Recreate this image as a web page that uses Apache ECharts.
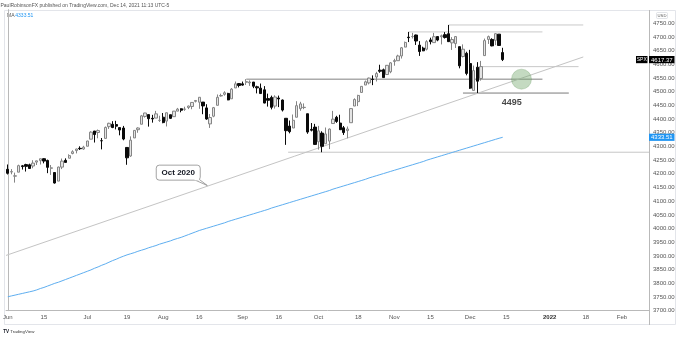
<!DOCTYPE html>
<html>
<head>
<meta charset="utf-8">
<script src="https://cdn.jsdelivr.net/npm/echarts@6/dist/echarts.min.js"></script>
<style>
  html, body { margin: 0; padding: 0; background: #fff; }
  #chart { width: 679px; height: 337px; }
</style>
</head>
<body>
<div id="chart"></div>
<script>
// ---- S&P 500 daily bars, Jun 1 – Dec 14 2021 (last bar intraday) ----
const open = [
  4216.52, 4206.82, 4191.43, 4206.05, 4229.34, 4233.81, 4232.99, 4228.56, 4242.90, 4248.31,
  4255.28, 4248.87, 4220.37, 4204.78, 4173.40, 4224.61, 4249.27, 4256.97, 4274.45, 4284.90,
  4293.21, 4290.65, 4300.73, 4326.60, 4356.46, 4351.01, 4321.07, 4329.38, 4372.41, 4381.07,
  4380.11, 4369.02, 4367.43, 4296.40, 4265.11, 4331.13, 4361.27, 4381.20, 4409.58, 4416.38,
  4402.95, 4403.59, 4395.12, 4406.86, 4392.74, 4415.95, 4408.86, 4429.07, 4437.77, 4435.79,
  4442.18, 4446.08, 4464.84, 4461.65, 4462.12, 4440.94, 4382.44, 4410.56, 4450.29, 4484.40,
  4490.45, 4493.75, 4474.10, 4513.76, 4529.75, 4528.80, 4534.48, 4532.42, 4535.38, 4518.09,
  4513.02, 4506.92, 4474.81, 4479.33, 4447.49, 4477.09, 4469.74, 4402.95, 4374.45, 4367.43,
  4406.75, 4438.04, 4442.12, 4419.54, 4362.41, 4370.67, 4317.16, 4348.84, 4309.87, 4319.57,
  4383.73, 4406.51, 4385.44, 4368.31, 4358.01, 4386.75, 4447.69, 4463.72, 4497.34, 4524.42,
  4532.24, 4546.12, 4553.69, 4578.69, 4580.22, 4562.84, 4572.87, 4610.62, 4613.34, 4630.65,
  4662.93, 4699.26, 4701.48, 4707.25, 4670.26, 4659.39, 4655.24, 4689.30, 4679.42, 4701.50,
  4700.72, 4708.44, 4712.00, 4678.48, 4675.78, 4664.63, 4628.75, 4640.25, 4602.82, 4504.73,
  4589.49, 4548.37, 4631.97, 4690.86, 4691.00, 4687.64, 4710.30, 4642.99
];
const high = [
  4234.12, 4217.37, 4204.39, 4233.45, 4232.34, 4236.74, 4237.09, 4249.74, 4248.38, 4255.59,
  4257.16, 4251.89, 4232.29, 4204.78, 4226.24, 4255.84, 4256.60, 4271.28, 4286.12, 4292.14,
  4300.52, 4302.43, 4320.66, 4355.43, 4356.46, 4361.88, 4330.88, 4372.87, 4386.68, 4392.37,
  4393.68, 4369.02, 4375.09, 4296.40, 4336.84, 4359.70, 4369.87, 4415.18, 4422.73, 4416.38,
  4415.47, 4429.97, 4412.25, 4422.18, 4423.79, 4416.17, 4429.76, 4440.82, 4439.39, 4445.21,
  4449.44, 4461.77, 4468.37, 4480.26, 4462.12, 4454.32, 4418.61, 4444.35, 4489.88, 4492.81,
  4501.71, 4495.90, 4513.33, 4537.36, 4531.39, 4537.11, 4545.85, 4541.45, 4535.38, 4521.79,
  4529.90, 4520.47, 4492.99, 4485.68, 4486.87, 4485.87, 4471.52, 4402.95, 4394.87, 4416.75,
  4465.40, 4463.12, 4457.30, 4419.54, 4385.57, 4382.55, 4375.19, 4355.51, 4369.23, 4365.57,
  4429.97, 4412.02, 4415.88, 4374.89, 4372.87, 4439.73, 4475.82, 4488.75, 4520.40, 4540.87,
  4551.44, 4559.67, 4572.62, 4598.53, 4584.57, 4597.55, 4608.08, 4620.34, 4635.15, 4663.46,
  4683.00, 4718.50, 4714.92, 4708.53, 4684.85, 4664.55, 4688.47, 4697.42, 4714.95, 4701.50,
  4708.80, 4717.75, 4743.83, 4699.39, 4702.87, 4664.63, 4672.95, 4646.02, 4652.94, 4595.46,
  4608.03, 4612.60, 4694.04, 4705.06, 4695.26, 4713.57, 4710.30, 4660.47
];
const low = [
  4197.59, 4198.27, 4167.93, 4206.05, 4215.66, 4208.41, 4218.74, 4220.34, 4232.25, 4234.07,
  4238.35, 4202.45, 4196.05, 4164.40, 4173.40, 4217.27, 4241.43, 4256.97, 4271.16, 4274.67,
  4287.04, 4287.96, 4300.73, 4326.60, 4314.37, 4329.79, 4289.37, 4329.38, 4364.03, 4366.92,
  4362.36, 4340.70, 4322.53, 4233.13, 4262.05, 4331.13, 4350.06, 4381.20, 4405.45, 4372.51,
  4387.01, 4403.59, 4389.65, 4384.81, 4373.00, 4400.23, 4408.86, 4429.07, 4424.74, 4430.03,
  4436.42, 4435.96, 4460.82, 4437.66, 4417.83, 4397.59, 4367.73, 4406.80, 4450.29, 4482.28,
  4485.66, 4468.99, 4474.10, 4513.76, 4515.80, 4522.02, 4524.66, 4521.30, 4513.00, 4493.95,
  4492.07, 4457.66, 4445.70, 4435.46, 4438.37, 4443.80, 4427.76, 4305.91, 4347.96, 4367.43,
  4406.75, 4430.27, 4436.19, 4346.33, 4355.08, 4306.24, 4288.52, 4278.94, 4309.87, 4290.49,
  4383.73, 4386.22, 4360.59, 4342.09, 4329.92, 4386.75, 4447.69, 4447.47, 4496.41, 4524.40,
  4526.89, 4524.00, 4537.36, 4569.17, 4551.66, 4562.84, 4567.59, 4595.06, 4613.34, 4621.19,
  4662.59, 4681.32, 4694.39, 4670.87, 4630.86, 4648.31, 4650.77, 4672.86, 4679.42, 4684.41,
  4672.78, 4694.22, 4682.17, 4652.66, 4659.89, 4585.43, 4625.26, 4560.00, 4510.27, 4504.73,
  4495.12, 4540.51, 4631.97, 4674.52, 4665.98, 4670.24, 4667.60, 4612.00
];
const close = [
  4202.04, 4208.12, 4192.85, 4229.89, 4226.52, 4227.26, 4219.55, 4239.18, 4247.44, 4255.15,
  4246.59, 4223.70, 4221.86, 4166.45, 4224.79, 4246.44, 4241.84, 4266.49, 4280.70, 4290.61,
  4291.80, 4297.50, 4319.94, 4352.34, 4343.54, 4358.13, 4320.82, 4369.55, 4384.63, 4369.21,
  4374.30, 4360.03, 4327.16, 4258.49, 4323.06, 4358.69, 4367.48, 4411.79, 4422.30, 4401.46,
  4400.64, 4419.15, 4395.26, 4387.16, 4423.15, 4402.66, 4429.10, 4436.52, 4432.35, 4436.75,
  4447.70, 4460.83, 4468.00, 4479.71, 4448.08, 4400.27, 4405.80, 4441.67, 4479.53, 4486.23,
  4496.19, 4470.00, 4509.37, 4528.79, 4522.68, 4524.09, 4536.95, 4535.43, 4520.03, 4514.07,
  4493.28, 4458.58, 4468.73, 4443.05, 4480.70, 4473.75, 4432.99, 4357.73, 4354.19, 4395.64,
  4448.98, 4455.48, 4443.11, 4352.63, 4359.46, 4307.54, 4357.04, 4300.46, 4345.72, 4363.55,
  4399.76, 4391.34, 4361.19, 4350.65, 4363.80, 4438.26, 4471.37, 4486.46, 4519.63, 4536.19,
  4549.78, 4544.90, 4566.48, 4574.79, 4551.68, 4596.42, 4605.38, 4613.67, 4630.65, 4660.57,
  4680.06, 4697.53, 4701.70, 4685.25, 4646.71, 4649.27, 4682.85, 4682.80, 4700.90, 4688.67,
  4704.54, 4697.96, 4682.94, 4690.70, 4701.46, 4594.62, 4655.27, 4567.00, 4513.04, 4577.10,
  4538.43, 4591.67, 4686.75, 4701.21, 4667.45, 4712.02, 4668.97, 4617.37
];
// 200-day simple moving average, per bar
const ma200 = [
  3751, 3754, 3757, 3760, 3763, 3766, 3769, 3772, 3776, 3781,
  3785, 3790, 3795, 3800, 3804, 3809, 3814, 3819, 3824, 3829,
  3834, 3839, 3844, 3849, 3855, 3860, 3866, 3871, 3877, 3883,
  3888, 3894, 3899, 3904, 3908, 3912, 3917, 3921, 3925, 3930,
  3934, 3938, 3943, 3947, 3951, 3955, 3960, 3964, 3968, 3973,
  3978, 3983, 3988, 3993, 3997, 4001, 4005, 4009, 4013, 4017,
  4021, 4026, 4030, 4034, 4038, 4042, 4046, 4050, 4054, 4058,
  4062, 4066, 4070, 4075, 4079, 4083, 4087, 4091, 4095, 4099,
  4103, 4107, 4111, 4115, 4119, 4123, 4127, 4131, 4135, 4139,
  4144, 4148, 4152, 4156, 4160, 4164, 4168, 4172, 4176, 4180,
  4185, 4189, 4193, 4197, 4201, 4205, 4209, 4213, 4217, 4221,
  4225, 4229, 4233, 4237, 4241, 4245, 4250, 4254, 4258, 4262,
  4266, 4270, 4274, 4278, 4282, 4286, 4290, 4294, 4298, 4302,
  4306, 4310, 4314, 4318, 4322, 4326, 4330, 4333.51
];

// Horizontal levels drawn on the chart (price, first bar, last bar)
const levelPrice = [4743.83, 4718.50, 4591.67, 4545.85, 4495.12, 4278.94];
const levelStart = [122, 111, 131, 66, 126, 77.6];
const levelEnd   = [159.3, 148, 158, 148, 155.3, 177.5];
// Rising trendline from the Oct 2020 low (bar, price) pairs
const trendStart = [-0.5, 3902];
const trendEnd   = [159.3, 4627];
// Marked zone and labels
const zoneCenter = [142.2, 4545.85];
const supportLabel = [139.5, 4495.12];
const supportText = '4495';
const trendAnchor = [55.4, 4155];
const trendText = 'Oct 2020';

// Time-axis tick labels
const tickLabels = {
  '2021-06-01': 'Jun', '2021-06-15': '15', '2021-07-01': 'Jul', '2021-07-19': '19',
  '2021-08-02': 'Aug', '2021-08-16': '16', '2021-09-01': 'Sep', '2021-09-16': '16',
  '2021-10-01': 'Oct', '2021-10-18': '18', '2021-11-01': 'Nov', '2021-11-15': '15',
  '2021-12-01': 'Dec', '2021-12-15': '15', '2022-01-03': '2022', '2022-01-18': '18',
  '2022-02-01': 'Feb'
};
const marketHolidays = ['2021-07-05', '2021-09-06', '2021-11-25', '2021-12-24', '2022-01-17'];
const SESSION_COUNT = 178;

// Build the list of trading sessions (weekdays minus exchange holidays)
function buildSessions(startIso, count) {
  const out = [];
  const d = new Date(startIso + 'T00:00:00Z');
  while (out.length < count) {
    const wd = d.getUTCDay();
    const iso = d.toISOString().slice(0, 10);
    if (wd !== 0 && wd !== 6 && marketHolidays.indexOf(iso) < 0) out.push(iso);
    d.setUTCDate(d.getUTCDate() + 1);
  }
  return out;
}
const sessions = buildSessions('2021-06-01', SESSION_COUNT);

const candleData = open.map((o, i) => [o, close[i], low[i], high[i]]);
const lastBar = close.length - 1;

const FONT = '"Liberation Sans", Arial, sans-serif';
const levelColors = ['#c9c9c9', '#c9c9c9', '#c9c9c9', '#808080', '#7a7a7a', '#c6c6c6'];

const levelSeries = levelPrice.map((p, k) => ({
  type: 'line', xAxisIndex: 1, yAxisIndex: 0, silent: true, symbol: 'none', z: 3,
  data: [[levelStart[k], p], [levelEnd[k], p]],
  lineStyle: { color: levelColors[k], width: 1 }
}));

const chart = echarts.init(document.getElementById('chart'), null, { renderer: 'canvas' });

chart.setOption({
  animation: false,
  backgroundColor: '#ffffff',
  textStyle: { fontFamily: FONT },
  grid: { left: 2, top: 9.6, width: 647, height: 301.1, containLabel: false },
  xAxis: [
    {
      type: 'category', data: sessions, boundaryGap: true,
      axisLine: { lineStyle: { color: '#b9b9b9', width: 1 } },
      axisTick: { show: false },
      splitLine: { show: false },
      axisLabel: {
        interval: (idx, val) => !!tickLabels[val],
        formatter: val => tickLabels[val] === '2022' ? '{y|2022}' : (tickLabels[val] || ''),
        color: '#555', fontSize: 6, margin: 4, fontFamily: FONT,
        rich: { y: { fontWeight: 'bold', color: '#333', fontSize: 6, fontFamily: FONT } }
      }
    },
    { type: 'value', min: -0.5, max: SESSION_COUNT - 0.5, show: false }
  ],
  yAxis: {
    type: 'value', position: 'right', min: 3700, max: 4800, interval: 50, scale: true,
    axisLine: { show: true, lineStyle: { color: '#b9b9b9', width: 1 } },
    axisTick: { show: false },
    splitLine: { show: false },
    axisLabel: {
      formatter: v => v >= 4800 ? '' : v.toFixed(2),
      color: '#555', fontSize: 6, margin: 4, fontFamily: FONT
    }
  },
  series: [
    ...levelSeries,
    {
      type: 'line', xAxisIndex: 1, yAxisIndex: 0, silent: true, symbol: 'none', z: 3,
      data: [trendStart, trendEnd],
      lineStyle: { color: '#c4c4c4', width: 1 }
    },
    {
      type: 'line', name: 'MA', xAxisIndex: 0, data: ma200, symbol: 'none', silent: true, z: 3,
      lineStyle: { color: '#5eaef0', width: 1 }
    },
    {
      type: 'candlestick', xAxisIndex: 0, data: candleData, barWidth: 2.8, z: 4,
      itemStyle: { color: '#e4e4e4', borderColor: '#858585', color0: '#0a0a0a', borderColor0: '#0a0a0a', borderWidth: 1 }
    },
    {
      type: 'scatter', xAxisIndex: 1, yAxisIndex: 0, silent: true, z: 5,
      data: [zoneCenter], symbolSize: 20,
      itemStyle: { color: 'rgba(112,166,106,0.52)', borderColor: 'rgba(100,150,95,0.45)', borderWidth: 0.8 }
    },
    {
      type: 'scatter', xAxisIndex: 1, yAxisIndex: 0, silent: true, z: 6,
      data: [supportLabel], symbolSize: 1, itemStyle: { color: 'rgba(0,0,0,0)' },
      label: {
        show: true, formatter: supportText, position: 'inside', offset: [0, 9.5],
        fontWeight: 'bold', fontSize: 9, color: '#161616', fontFamily: FONT
      }
    },
    {
      // speech-bubble callout pointing at the trendline
      type: 'custom', xAxisIndex: 1, yAxisIndex: 0, clip: false, silent: true, z: 7,
      data: [trendAnchor],
      renderItem: (params, api) => {
        const p = api.coord([api.value(0), api.value(1)]);
        const ax = p[0], ay = p[1];
        const bw = 44, bh = 15, bx = ax - 51.7, by = ay - 21;
        return {
          type: 'group', children: [
            { type: 'polygon', shape: { points: [[ax - 14, ay - 6.6], [ax - 8.5, ay - 6.6], [ax - 0.6, ay - 0.6]] },
              style: { fill: '#fff', stroke: '#8c8c8c', lineWidth: 0.8 } },
            { type: 'rect', shape: { x: bx, y: by, width: bw, height: bh, r: 3 },
              style: { fill: '#fff', stroke: '#8c8c8c', lineWidth: 0.8 } },
            { type: 'rect', shape: { x: ax - 13.5, y: ay - 7.2, width: 4.6, height: 1.4 },
              style: { fill: '#fff' } },
            { type: 'text', style: {
                text: trendText, x: bx + bw / 2, y: by + bh / 2 + 0.5,
                align: 'center', verticalAlign: 'middle', textAlign: 'center', textVerticalAlign: 'middle',
                font: 'bold 8px ' + FONT, fill: '#131722' } }
          ]
        };
      }
    },
    {
      // last-value tags on the price scale
      type: 'custom', xAxisIndex: 1, yAxisIndex: 0, clip: false, silent: true, z: 8,
      data: [[lastBar, close[lastBar]], [lastBar, ma200[lastBar]]],
      renderItem: (params, api) => {
        const val = api.value(1);
        const y = api.coord([api.value(0), val])[1];
        const right = params.coordSys.x + params.coordSys.width;
        const bg = params.dataIndex === 0 ? '#000000' : '#2196f3';
        const kids = [
          { type: 'rect', shape: { x: right, y: y - 3.6, width: 25.5, height: 7.2 }, style: { fill: bg } },
          { type: 'text', style: {
              text: val.toFixed(2), x: right + 12.8, y: y + 0.3,
              align: 'center', verticalAlign: 'middle', textAlign: 'center', textVerticalAlign: 'middle',
              font: '6px ' + FONT, fill: '#fff' } }
        ];
        if (params.dataIndex === 0) {
          kids.push({ type: 'rect', shape: { x: right - 13, y: y - 3.6, width: 11.5, height: 7.2 }, style: { fill: '#000' } });
          kids.push({ type: 'text', style: {
              text: 'SPX', x: right - 7.25, y: y + 0.3,
              align: 'center', verticalAlign: 'middle', textAlign: 'center', textVerticalAlign: 'middle',
              font: '5px ' + FONT, fill: '#fff' } });
        }
        return { type: 'group', children: kids };
      }
    }
  ],
  graphic: [
    // panel frame
    { type: 'rect', silent: true, z: -1, shape: { x: 4.5, y: 10.5, width: 671, height: 314 },
      style: { fill: 'none', stroke: '#e3e5ea', lineWidth: 1 } },
    { type: 'line', silent: true, shape: { x1: 649.5, y1: 10, x2: 649.5, y2: 325 },
      style: { stroke: '#b9b9b9', lineWidth: 1 } },
    // header
    { type: 'text', silent: true, style: {
        text: 'PaulRobinsonFX published on TradingView.com, Dec 14, 2021 11:13 UTC-5',
        x: 0.5, y: 2.8, font: '5px ' + FONT, fill: '#555' } },
    { type: 'text', silent: true, style: { text: 'MA', x: 7, y: 13.2, font: '5px ' + FONT, fill: '#555' } },
    { type: 'text', silent: true, style: { text: ma200[lastBar].toFixed(2), x: 15.3, y: 13.2, font: '5px ' + FONT, fill: '#2196f3' } },
    // currency box
    { type: 'rect', silent: true, shape: { x: 656.5, y: 12.5, width: 11, height: 6, r: 1 },
      style: { fill: '#fff', stroke: '#cfd2d8', lineWidth: 0.6 } },
    { type: 'text', silent: true, style: { text: 'USD', x: 662, y: 15.6, align: 'center', verticalAlign: 'middle',
        textAlign: 'center', textVerticalAlign: 'middle', font: '4.2px ' + FONT, fill: '#555' } },
    // footer logo
    { type: 'text', silent: true, style: { text: 'TV', x: 3.2, y: 329.6, font: 'bold 4.6px ' + FONT, fill: '#131722' } },
    { type: 'text', silent: true, style: { text: 'TradingView', x: 10.2, y: 329.8, font: '4.4px ' + FONT, fill: '#333' } }
  ]
});
</script>
</body>
</html>
